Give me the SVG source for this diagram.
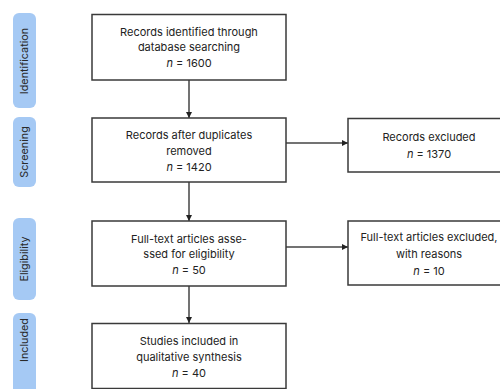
<svg xmlns="http://www.w3.org/2000/svg" width="500" height="389" viewBox="0 0 500 389">
<defs>
<style>
.tab{fill:#a5c9f4}
.tabt{font-family:Inter,"Liberation Sans",sans-serif;font-size:10.8px;fill:#2a2a2a;text-anchor:middle;dominant-baseline:central}
.box{fill:#fff;stroke:#3a3a3a;stroke-width:1.5}
.t{font-family:Inter,"Liberation Sans",sans-serif;font-size:11px;fill:#222;text-anchor:middle}
.i{font-style:italic}
.ln{stroke:#444;stroke-width:1.5;fill:none}
</style>
<marker id="ah" viewBox="0 0 10 10" refX="10" refY="5" markerWidth="6" markerHeight="6" markerUnits="userSpaceOnUse" orient="auto">
<path d="M0,0 L10,5 L0,10 Z" fill="#222"/>
</marker>
</defs>
<rect width="500" height="389" fill="#fff"/>
<g id="tab-identification"><rect class="tab" x="13" y="13" width="23" height="95" rx="6"/><text class="tabt" transform="translate(24.5,61) rotate(-90)">Identification</text></g>
<g id="tab-screening"><rect class="tab" x="13" y="117" width="23" height="70" rx="6"/><text class="tabt" transform="translate(24.5,152) rotate(-90)">Screening</text></g>
<g id="tab-eligibility"><rect class="tab" x="13" y="218" width="23" height="82" rx="6"/><text class="tabt" transform="translate(24.5,259) rotate(-90)">Eligibility</text></g>
<g id="tab-included"><rect class="tab" x="13" y="313" width="23" height="90" rx="6"/><text class="tabt" transform="translate(24.5,340) rotate(-90)">Included</text></g>
<g id="connectors">
<line class="ln" x1="189" y1="80" x2="189" y2="118" marker-end="url(#ah)"/>
<line class="ln" x1="189" y1="182" x2="189" y2="221" marker-end="url(#ah)"/>
<line class="ln" x1="189" y1="286" x2="189" y2="323" marker-end="url(#ah)"/>
<line class="ln" x1="286" y1="143" x2="348" y2="143" marker-end="url(#ah)"/>
<line class="ln" x1="286" y1="247" x2="348" y2="247" marker-end="url(#ah)"/>
</g>
<g id="identified"><rect class="box" x="92" y="14.5" width="194" height="65.5"/>
<text class="t" x="189" y="35.5">Records identified through</text>
<text class="t" x="189" y="51">database searching</text>
<text class="t" x="189" y="67"><tspan class="i">n</tspan> = 1600</text></g>
<g id="screened"><rect class="box" x="92" y="118" width="194" height="64"/>
<text class="t" x="189" y="139">Records after duplicates</text>
<text class="t" x="189" y="154.5">removed</text>
<text class="t" x="189" y="170.5"><tspan class="i">n</tspan> = 1420</text></g>
<g id="excluded"><rect class="box" x="348" y="118.5" width="162" height="53.5"/>
<text class="t" x="429" y="141">Records excluded</text>
<text class="t" x="429" y="157.5"><tspan class="i">n</tspan> = 1370</text></g>
<g id="eligibility"><rect class="box" x="92" y="221" width="194" height="65"/>
<text class="t" x="189" y="242.5">Full-text articles asse-</text>
<text class="t" x="189" y="257.5">ssed for eligibility</text>
<text class="t" x="189" y="273.5"><tspan class="i">n</tspan> = 50</text></g>
<g id="ft-excluded"><rect class="box" x="348" y="221" width="162" height="64"/>
<text class="t" x="429" y="241">Full-text articles excluded,</text>
<text class="t" x="429" y="257.5">with reasons</text>
<text class="t" x="429" y="274.5"><tspan class="i">n</tspan> = 10</text></g>
<g id="included"><rect class="box" x="92" y="323.5" width="194" height="65"/>
<text class="t" x="189" y="345">Studies included in</text>
<text class="t" x="189" y="361">qualitative synthesis</text>
<text class="t" x="189" y="377"><tspan class="i">n</tspan> = 40</text></g>
</svg>
